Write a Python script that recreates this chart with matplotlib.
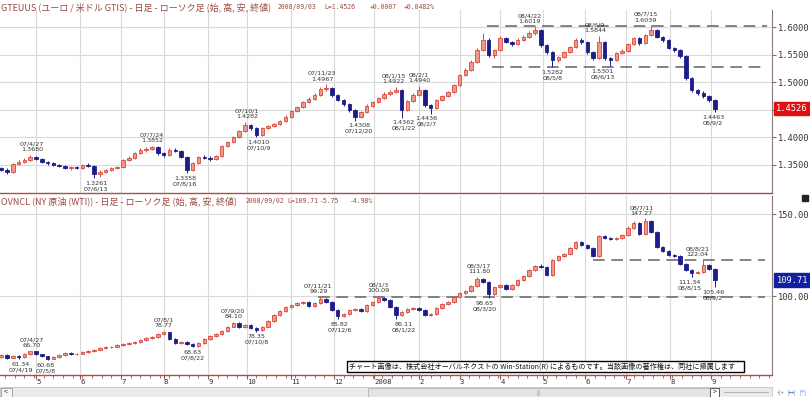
import numpy as np
import pandas as pd
import matplotlib
matplotlib.use("Agg")
import matplotlib.pyplot as plt
from matplotlib.patches import Rectangle

plt.rcParams['font.family'] = ['Noto Sans CJK JP', 'DejaVu Sans']

# business-day calendar of the chart, one candle = 3 business days
days = pd.bdate_range('2007-04-05', '2008-10-14')
n_candles = 124
last_month = '2008-09'  # months after this have no label / grid yet

# GTEUUS (EUR/USD)
eur_open0 = 1.3440
eur_close = [1.3409, 1.3373, 1.3518, 1.3555, 1.3591, 1.3645, 1.3609, 1.3555, 1.3536, 1.3500,
             1.3482, 1.3445, 1.3460, 1.3445, 1.3500, 1.3490, 1.3336, 1.3373, 1.3409, 1.3445,
             1.3464, 1.3591, 1.3627, 1.3718, 1.3773, 1.3791, 1.3827, 1.3718, 1.3682, 1.3773,
             1.3760, 1.3645, 1.3409, 1.3536, 1.3645, 1.3630, 1.3609, 1.3664, 1.3845, 1.3918,
             1.4009, 1.4118, 1.4227, 1.4173, 1.4045, 1.4173, 1.4209, 1.4245, 1.4300, 1.4373,
             1.4482, 1.4555, 1.4645, 1.4700, 1.4773, 1.4882, 1.4900, 1.4773, 1.4682, 1.4609,
             1.4500, 1.4373, 1.4464, 1.4573, 1.4645, 1.4718, 1.4791, 1.4827, 1.4864, 1.4500,
             1.4664, 1.4773, 1.4864, 1.4591, 1.4536, 1.4682, 1.4755, 1.4827, 1.4955, 1.5136,
             1.5227, 1.5373, 1.5591, 1.5773, 1.5500, 1.5591, 1.5809, 1.5736, 1.5700, 1.5773,
             1.5827, 1.5900, 1.5955, 1.5682, 1.5555, 1.5409, 1.5464, 1.5555, 1.5645, 1.5773,
             1.5736, 1.5555, 1.5445, 1.5736, 1.5445, 1.5409, 1.5536, 1.5573, 1.5700, 1.5809,
             1.5718, 1.5864, 1.5955, 1.5827, 1.5773, 1.5627, 1.5591, 1.5482, 1.5082, 1.4864,
             1.4809, 1.4755, 1.4682, 1.4526]
eur_high = [1.3470, 1.3440, 1.3545, 1.3590, 1.3625, 1.3680, 1.3665, 1.3630, 1.3580, 1.3560,
            1.3525, 1.3500, 1.3475, 1.3480, 1.3525, 1.3530, 1.3500, 1.3400, 1.3430, 1.3470,
            1.3490, 1.3615, 1.3655, 1.3740, 1.3800, 1.3820, 1.3852, 1.3840, 1.3740, 1.3800,
            1.3805, 1.3775, 1.3660, 1.3560, 1.3670, 1.3680, 1.3655, 1.3690, 1.3865, 1.3940,
            1.4035, 1.4140, 1.4282, 1.4250, 1.4190, 1.4195, 1.4235, 1.4270, 1.4325, 1.4400,
            1.4505, 1.4580, 1.4670, 1.4730, 1.4800, 1.4910, 1.4967, 1.4920, 1.4795, 1.4705,
            1.4630, 1.4520, 1.4490, 1.4600, 1.4670, 1.4745, 1.4820, 1.4860, 1.4922, 1.4880,
            1.4690, 1.4800, 1.4940, 1.4880, 1.4610, 1.4705, 1.4780, 1.4850, 1.4980, 1.5160,
            1.5255, 1.5400, 1.5620, 1.5905, 1.5800, 1.5615, 1.5840, 1.5830, 1.5760, 1.5800,
            1.5860, 1.5930, 1.6019, 1.5975, 1.5700, 1.5575, 1.5490, 1.5580, 1.5670, 1.5800,
            1.5800, 1.5755, 1.5575, 1.5844, 1.5760, 1.5470, 1.5560, 1.5600, 1.5725, 1.5835,
            1.5830, 1.5890, 1.6039, 1.5970, 1.5850, 1.5790, 1.5650, 1.5610, 1.5500, 1.5100,
            1.4890, 1.4840, 1.4780, 1.4700]
eur_low = [1.3385, 1.3345, 1.3360, 1.3500, 1.3530, 1.3575, 1.3585, 1.3530, 1.3505, 1.3475,
           1.3455, 1.3420, 1.3415, 1.3420, 1.3430, 1.3455, 1.3261, 1.3290, 1.3350, 1.3390,
           1.3420, 1.3450, 1.3570, 1.3605, 1.3700, 1.3745, 1.3770, 1.3690, 1.3650, 1.3665,
           1.3735, 1.3620, 1.3358, 1.3390, 1.3520, 1.3605, 1.3580, 1.3590, 1.3650, 1.3825,
           1.3900, 1.3990, 1.4100, 1.4140, 1.4010, 1.4030, 1.4150, 1.4185, 1.4225, 1.4280,
           1.4355, 1.4460, 1.4530, 1.4620, 1.4680, 1.4750, 1.4850, 1.4745, 1.4655, 1.4580,
           1.4470, 1.4308, 1.4350, 1.4445, 1.4550, 1.4620, 1.4695, 1.4770, 1.4800, 1.4362,
           1.4480, 1.4640, 1.4750, 1.4560, 1.4436, 1.4515, 1.4660, 1.4730, 1.4800, 1.4930,
           1.5110, 1.5200, 1.5350, 1.5570, 1.5470, 1.5440, 1.5570, 1.5710, 1.5660, 1.5680,
           1.5750, 1.5800, 1.5870, 1.5650, 1.5520, 1.5282, 1.5380, 1.5440, 1.5530, 1.5620,
           1.5705, 1.5525, 1.5410, 1.5420, 1.5410, 1.5301, 1.5385, 1.5510, 1.5550, 1.5680,
           1.5690, 1.5700, 1.5840, 1.5800, 1.5745, 1.5600, 1.5560, 1.5450, 1.5050, 1.4830,
           1.4780, 1.4720, 1.4650, 1.4463]

# OVNCL (NY crude WTI)
wti_open0 = 63.0
wti_close = [64.0, 62.2, 63.4, 62.8, 64.6, 66.5, 64.6, 63.4, 61.6, 62.8,
             64.0, 65.2, 64.6, 64.9, 65.9, 66.3, 67.1, 68.3, 68.9, 69.2,
             70.1, 70.7, 71.3, 72.0, 73.2, 74.4, 75.0, 76.8, 78.0, 73.8,
             71.3, 72.0, 70.7, 69.5, 71.3, 73.8, 75.6, 76.8, 78.7, 81.1,
             83.5, 81.1, 82.3, 80.5, 79.3, 81.1, 84.8, 88.4, 90.9, 93.3,
             94.5, 95.7, 96.3, 93.9, 95.7, 98.2, 96.3, 91.5, 87.8, 89.0,
             91.5, 92.1, 90.9, 94.5, 96.3, 98.8, 97.6, 93.3, 88.4, 90.2,
             92.1, 92.7, 91.5, 88.4, 89.0, 92.7, 95.1, 96.3, 99.4, 101.8,
             103.0, 106.1, 110.4, 108.5, 101.2, 105.5, 106.7, 104.3, 106.7, 109.8,
             112.2, 115.9, 118.3, 117.7, 112.8, 122.0, 124.4, 125.6, 129.3, 132.9,
             131.1, 129.3, 124.4, 136.6, 135.4, 134.8, 135.4, 137.2, 141.5, 144.5,
             137.8, 145.7, 139.0, 129.9, 127.4, 125.0, 124.4, 119.5, 115.9, 114.0,
             114.6, 118.9, 116.5, 109.71]
wti_high = [64.6, 64.5, 63.9, 63.9, 65.1, 66.70, 66.6, 64.9, 63.7, 63.3,
            64.5, 65.7, 65.6, 65.4, 66.4, 66.9, 67.6, 68.8, 69.5, 69.8,
            70.6, 71.3, 71.9, 72.6, 73.8, 75.0, 75.7, 77.4, 78.77, 78.3,
            74.2, 72.7, 72.4, 71.1, 71.8, 74.3, 76.1, 77.4, 79.3, 81.7,
            84.10, 83.9, 82.9, 82.7, 80.9, 81.6, 85.3, 89.0, 91.5, 93.9,
            95.2, 96.4, 97.0, 96.8, 96.3, 99.29, 98.7, 96.7, 91.9, 89.7,
            92.1, 92.8, 92.6, 95.1, 96.9, 100.09, 99.4, 98.0, 93.7, 90.8,
            92.7, 93.4, 93.2, 91.9, 89.7, 93.3, 95.7, 97.0, 100.0, 102.5,
            103.8, 106.8, 111.80, 110.9, 108.9, 106.2, 107.4, 107.2, 107.3, 110.5,
            113.0, 116.7, 119.1, 119.3, 118.1, 122.8, 125.2, 126.5, 130.1, 133.8,
            133.5, 131.7, 129.8, 137.4, 137.3, 136.1, 136.2, 138.0, 142.4, 145.5,
            145.0, 147.27, 146.3, 139.5, 130.6, 128.1, 125.8, 124.9, 120.2, 116.6,
            115.5, 122.04, 119.6, 116.8]
wti_low = [62.4, 61.8, 61.9, 61.34, 62.5, 64.3, 64.1, 62.9, 60.68, 61.3,
           62.5, 63.7, 64.0, 64.1, 64.6, 65.5, 65.9, 66.8, 67.9, 68.4,
           68.8, 69.7, 70.3, 70.9, 71.6, 72.8, 74.0, 74.6, 76.4, 73.3,
           70.8, 70.9, 70.1, 68.63, 69.1, 71.0, 73.4, 75.2, 76.4, 78.3,
           80.8, 80.6, 80.7, 80.0, 78.35, 78.9, 80.8, 84.4, 88.0, 90.5,
           92.8, 94.0, 95.2, 93.3, 93.5, 95.3, 95.8, 91.0, 85.82, 87.3,
           88.6, 91.0, 90.3, 90.5, 94.1, 95.9, 97.0, 92.7, 86.11, 87.9,
           89.8, 91.6, 90.9, 87.8, 87.9, 88.6, 92.3, 94.7, 95.9, 99.0,
           101.3, 102.6, 105.7, 107.8, 98.65, 100.8, 105.0, 103.7, 103.9, 106.3,
           109.3, 111.8, 115.4, 117.0, 112.1, 112.4, 121.5, 123.8, 125.1, 128.8,
           130.4, 128.6, 123.6, 124.0, 134.6, 134.0, 134.1, 134.9, 136.7, 141.0,
           136.9, 137.3, 138.2, 129.0, 126.6, 124.2, 123.6, 118.8, 115.0, 111.34,
           113.2, 114.1, 115.6, 105.46]

# high / low marks
eur_marks = ['07/4/27', '07/6/13', '07/7/24', '07/8/16', '07/10/1', '07/10/9', '07/11/23',
             '07/12/20', '08/1/15', '08/1/22', '08/2/1', '08/2/7', '08/4/22', '08/5/8',
             '08/6/9', '08/6/13', '08/7/15', '08/9/2']
eur_mark_vals = [1.3680, 1.3261, 1.3852, 1.3358, 1.4282, 1.4010, 1.4967, 1.4308, 1.4922,
                 1.4362, 1.4940, 1.4436, 1.6019, 1.5282, 1.5844, 1.5301, 1.6039, 1.4463]
eur_mark_kind = ['h', 'l', 'h', 'l', 'h', 'l', 'h', 'l', 'h', 'l', 'h', 'l', 'h', 'l', 'h', 'l', 'h', 'l']

wti_marks = ['07/4/19', '07/4/27', '07/5/8', '07/8/1', '07/8/22', '07/9/20', '07/10/8',
             '07/11/21', '07/12/6', '08/1/3', '08/1/22', '08/3/17', '08/3/20', '08/7/11',
             '08/8/15', '08/8/21', '08/9/2']
wti_mark_vals = [61.34, 66.70, 60.68, 78.77, 68.63, 84.10, 78.35, 99.29, 85.82, 100.09,
                 86.11, 111.80, 98.65, 147.27, 111.34, 122.04, 105.46]
wti_mark_kind = ['l', 'h', 'l', 'h', 'l', 'h', 'l', 'h', 'l', 'h', 'l', 'h', 'l', 'h', 'l', 'h', 'l']

# trend lines (start date, level, end date)
eur_lines = [('2008-03-21', 1.6019, '2008-10-10'), ('2008-03-26', 1.5282, '2008-10-10')]
wti_lines = [('2007-11-21', 99.29, '2008-10-09'), ('2008-06-06', 122.04, '2008-10-09')]

UP_FACE = '#f2968a'
UP_EDGE = '#d9483c'
DOWN = '#1d1d8a'
BROWN = '#a65048'
TXT = '#333333'

W, H = 810, 397
fig = plt.figure(figsize=(W / 100, H / 100), dpi=100)


def px_axes(x0, y0, x1, y1):
    return fig.add_axes([x0 / W, 1 - y1 / H, (x1 - x0) / W, (y1 - y0) / H])


def slot(d):
    return days.get_indexer([pd.Timestamp(d)])[0]


month_idx = [i for i in range(1, len(days))
             if days[i].month != days[i - 1].month and days[i] <= pd.Timestamp(last_month + '-28')]


def draw_panel(ax, open0, close, high, low, marks, vals, kinds, fmt, lines):
    c = np.array(close)
    o = np.concatenate([[open0], c[:-1]])
    hi = np.array(high)
    lo = np.array(low)
    x = np.arange(n_candles) * 3
    up = c >= o
    ax.vlines(x[up], lo[up], hi[up], colors=UP_EDGE, lw=0.7, zorder=3)
    ax.vlines(x[~up], lo[~up], hi[~up], colors=DOWN, lw=0.7, zorder=3)
    ax.bar(x[up], c[up] - o[up], bottom=o[up], width=1.8, color=UP_FACE,
           edgecolor=UP_EDGE, lw=0.6, zorder=4)
    ax.bar(x[~up], o[~up] - c[~up], bottom=c[~up], width=1.8, color=DOWN,
           edgecolor=DOWN, lw=0.6, zorder=4)

    for s, lev, e in lines:
        ax.plot([slot(s), slot(e)], [lev, lev], color='#6e6e6e', lw=1.2,
                dashes=(7, 4), zorder=2)

    for lab, v, k in zip(marks, vals, kinds):
        xs = slot(pd.to_datetime('20' + lab, format='%Y/%m/%d'))
        if k == 'h':
            txt, off, va = lab + '\n' + fmt % v, 2, 'bottom'
        else:
            txt, off, va = fmt % v + '\n' + lab, -2, 'top'
        t = ax.annotate(txt, (xs, v), xytext=(0, off), textcoords='offset points',
                        ha='center', va=va, fontsize=4.6, family='DejaVu Sans',
                        color=TXT, linespacing=1.15, zorder=6)
        t.set_clip_on(True)

    ax.set_xticks(month_idx)
    ax.set_xticks([i for i in range(len(days)) if days[i].weekday() == 0], minor=True)
    ax.set_xlim(-0.6, 398.5)
    ax.grid(True, which='major', color='#dadada', lw=0.8, zorder=0)
    ax.set_axisbelow(True)
    ax.yaxis.tick_right()
    ax.tick_params(axis='y', which='both', direction='out', length=3, color='#777777',
                   labelsize=6.3, labelcolor=TXT, pad=1)
    for side in ['top', 'left']:
        ax.spines[side].set_visible(False)
    ax.spines['right'].set_color('#8c7a7a')
    ax.spines['bottom'].set_color(BROWN)
    ax.spines['bottom'].set_linewidth(1.0)


# upper panel
ax1 = px_axes(0, 10, 772, 192.5)
draw_panel(ax1, eur_open0, eur_close, eur_high, eur_low, eur_marks, eur_mark_vals,
           eur_mark_kind, '%.4f', eur_lines)
eur_ticks = [1.35, 1.40, 1.45, 1.50, 1.55, 1.60]
ax1.set_ylim(1.30, 1.6318)
ax1.set_yticks(eur_ticks)
# 1.4500 sits under the last-price box
ax1.set_yticklabels(['' if abs(v - eur_close[-1]) < 0.01 else '%.4f' % v for v in eur_ticks],
                    family='DejaVu Sans Mono')
ax1.tick_params(axis='x', which='both', length=0, labelbottom=False)
ax1.text(1.005, eur_close[-1], '%.4f' % eur_close[-1], transform=ax1.get_yaxis_transform(),
         ha='left', va='center', fontsize=6.3, family='DejaVu Sans Mono', color='white',
         zorder=10, clip_on=False,
         bbox=dict(boxstyle='square,pad=0.25', fc='#e01010', ec='#e01010'))

# lower panel
ax2 = px_axes(0, 196, 772, 375)
draw_panel(ax2, wti_open0, wti_close, wti_high, wti_low, wti_marks, wti_mark_vals,
           wti_mark_kind, '%.2f', wti_lines)
ax2.set_ylim(51.83, 160.98)
ax2.set_yticks([100, 150])
ax2.set_yticklabels(['100.00', '150.00'], family='DejaVu Sans Mono')
ax2.set_xticklabels(['2008' if days[i].month == 1 else str(days[i].month) for i in month_idx],
                    ha='left', fontsize=5.2, family='DejaVu Sans Mono', color=TXT)
ax2.tick_params(axis='x', which='major', direction='out', length=3, color=BROWN, pad=0.2)
ax2.tick_params(axis='x', which='minor', direction='out', length=2, color=BROWN)
ax2.text(1.006, wti_close[-1], '%.2f' % wti_close[-1], transform=ax2.get_yaxis_transform(),
         ha='left', va='center', fontsize=6.3, family='DejaVu Sans Mono', color='white',
         zorder=10, clip_on=False,
         bbox=dict(boxstyle='square,pad=0.25', fc='#1020a0', ec='#1020a0'))

# titles
tcol = '#9a4a3e'
fig.text(1 / W, 1 - 7 / H, 'GTEUUS (ユーロ / 米ドル GTIS) - 日足 - ローソク足 (始, 高, 安, 終値)',
         fontsize=6.5, color=tcol, va='center', ha='left')
for xp, s in [(278, '2008/09/03'), (324, 'L=1.4526'), (370, '+0.0007'), (404, '+0.0482%')]:
    fig.text(xp / W, 1 - 7 / H, s, fontsize=4.7, color=tcol, va='center', ha='left',
             family='DejaVu Sans Mono')
fig.text(1 / W, 1 - 201 / H, 'OVNCL (NY 原油 (WTI)) - 日足 - ローソク足 (始, 高, 安, 終値)',
         fontsize=6.5, color=tcol, va='center', ha='left')
for xp, s in [(246, '2008/09/02'), (287, 'L=109.71'), (320, '-5.75'), (350, '-4.98%')]:
    fig.text(xp / W, 1 - 201 / H, s, fontsize=4.7, color=tcol, va='center', ha='left',
             family='DejaVu Sans Mono')

# screen furniture drawn in pixel coordinates
deco = fig.add_axes([0, 0, 1, 1], zorder=20)
deco.set_xlim(0, W)
deco.set_ylim(H, 0)
deco.axis('off')
deco.add_patch(Rectangle((347, 361), 397, 10.5, fc='white', ec='black', lw=1.0))
deco.text(349, 366.5, 'チャート画像は、株式会社オーバルネクストの Win-Station(R) によるものです。当該画像の著作権は、同社に帰属します',
          fontsize=5.1, va='center', ha='left', color='#111111')
deco.add_patch(Rectangle((0, 387), 772, 10, fc='#ebebeb', ec='#c6c6c6', lw=0.6))
deco.add_patch(Rectangle((0.5, 388), 11, 8.5, fc='#f7f7f7', ec='#9a9a9a', lw=0.6))
deco.text(6, 392.5, '<', fontsize=5, ha='center', va='center', color='#222222')
deco.add_patch(Rectangle((368, 388), 342, 8.5, fc='#e4e4e4', ec='#b4b4b4', lw=0.6))
deco.text(539, 392.5, '|||', fontsize=4, ha='center', va='center', color='#999999')
deco.add_patch(Rectangle((710, 388), 9, 8.5, fc='white', ec='#555555', lw=0.7))
deco.text(714.5, 392.5, '>', fontsize=5, ha='center', va='center', color='#111111')
deco.plot([724, 768], [392, 392], color='#aaaaaa', lw=0.6)
for xp, s in [(781, '+|+'), (792, '|↔|'), (803, '[+]')]:
    deco.text(xp, 392.5, s, fontsize=4, ha='center', va='center', color='#3a6ab0')
deco.add_patch(Rectangle((802, 195), 6, 6, fc='#222222', ec='#222222'))

fig.savefig('out.png', dpi=100)
